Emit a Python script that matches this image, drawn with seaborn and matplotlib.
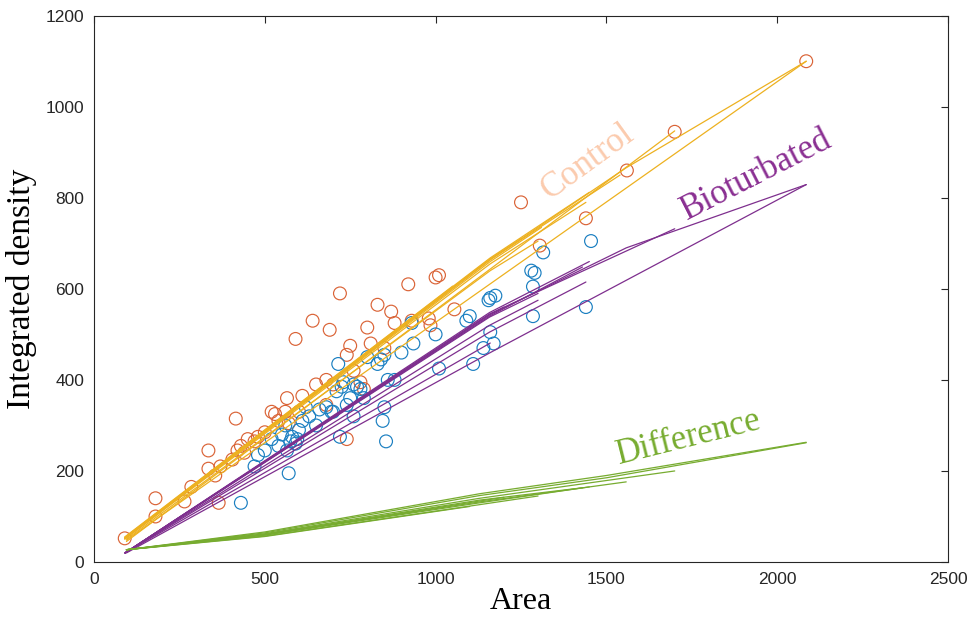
import pandas as pd
import matplotlib
matplotlib.use("Agg")
import matplotlib.pyplot as plt
import seaborn as sns

# DATA

# Control samples (orange circles)
control_area = [90, 180, 180, 265, 285, 335, 335, 355, 365, 370, 405, 415, 420, 430, 440,
                450, 470, 480, 500, 520, 530, 540, 560, 565, 570, 590, 600, 610, 640, 650,
                680, 680, 690, 700, 720, 740, 740, 750, 760, 780, 790, 800, 810, 830, 850,
                870, 880, 920, 930, 980, 985, 1000, 1010, 1055, 1250, 1305, 1440, 1560, 1700, 2085]
control_density = [52, 100, 140, 133, 165, 245, 205, 190, 130, 210, 225, 315, 245, 255, 240,
                   270, 265, 275, 285, 330, 325, 310, 330, 360, 305, 490, 330, 365, 530, 390,
                   345, 400, 510, 390, 590, 455, 270, 475, 420, 395, 380, 515, 480, 565, 470,
                   550, 525, 610, 530, 535, 520, 625, 630, 555, 790, 695, 755, 860, 945, 1100]

# Bioturbated samples (blue circles)
bio_area = [430, 470, 480, 500, 520, 540, 550, 560, 565, 570, 575, 580, 590, 595, 600,
            610, 620, 630, 650, 660, 680, 695, 700, 710, 715, 720, 725, 730, 740, 750,
            760, 760, 770, 780, 790, 800, 830, 840, 845, 850, 855, 850, 860, 880, 900,
            930, 935, 1000, 1010, 1090, 1100, 1110, 1140, 1155, 1160, 1160, 1170, 1175,
            1280, 1285, 1290, 1285, 1315, 1440, 1455]
bio_density = [130, 210, 235, 245, 270, 255, 280, 300, 245, 195, 265, 275, 260, 270, 290,
               310, 340, 320, 300, 335, 340, 330, 330, 375, 435, 275, 385, 395, 345, 360,
               320, 390, 385, 380, 360, 450, 435, 445, 310, 340, 265, 455, 400, 400, 460,
               525, 480, 500, 425, 530, 540, 435, 470, 575, 580, 505, 480, 585,
               640, 605, 635, 540, 680, 560, 705]

# Fitted curves, each one a list of (area, density) points
control_fits = [
    [(90, 52), (1160, 664), (1558, 866), (2085, 1100)],
    [(95, 48), (2085, 1100)],
    [(95, 45), (1700, 947)],
    [(90, 52), (1160, 664), (1540, 850)],
    [(90, 54), (1160, 668), (1450, 812)],
    [(90, 51), (1160, 660), (1310, 735)],
    [(90, 53), (1160, 666), (1250, 710)],
    [(90, 52), (1100, 630)],
    [(90, 55), (1050, 606)],
    [(90, 50), (1160, 655), (1440, 790)],
    [(95, 50), (1160, 640), (1300, 705)],
]
bio_fits = [
    [(91, 20), (1158, 543), (1558, 690), (2085, 829)],
    [(95, 20), (1160, 460), (2085, 829)],
    [(91, 20), (1158, 545), (1700, 732)],
    [(91, 20), (1158, 540), (1430, 648)],
    [(91, 20), (1158, 548), (1450, 660)],
    [(91, 20), (1158, 538), (1300, 590)],
    [(91, 20), (1158, 543), (1200, 560)],
    [(91, 20), (1100, 515)],
    [(91, 20), (1158, 505), (1440, 615)],
    [(91, 20), (1160, 481)],
    [(91, 20), (1158, 520), (1300, 575)],
]
diff_fits = [
    [(95, 27), (500, 66), (1129, 150), (1500, 190), (2085, 263)],
    [(95, 27), (500, 64), (1129, 146), (1500, 185), (2085, 262)],
    [(95, 27), (500, 62), (1129, 140), (1700, 200)],
    [(95, 27), (500, 60), (1129, 132), (1558, 176)],
    [(95, 27), (500, 59), (1129, 130), (1450, 165)],
    [(95, 27), (500, 57), (1129, 126), (1300, 145)],
    [(95, 27), (500, 60), (1129, 134), (1200, 142)],
    [(95, 27), (500, 56), (1100, 122)],
    [(95, 27), (500, 61), (1129, 136), (1430, 163)],
]


def fits_to_df(fits):
    rows = []
    for i, pts in enumerate(fits):
        for x, y in pts:
            rows.append({'line': i, 'Area': x, 'Density': y})
    return pd.DataFrame(rows)


sns.set_theme(style='white')
plt.rcParams['font.family'] = ['Liberation Sans', 'DejaVu Sans']
plt.rcParams['xtick.direction'] = 'in'
plt.rcParams['ytick.direction'] = 'in'

fig = plt.figure(figsize=(9.74, 6.18), dpi=100)
ax = fig.add_axes([0.0965, 0.0906, 0.8768, 0.884])

sns.scatterplot(x=control_area, y=control_density, ax=ax, marker='o', s=85,
                facecolor='none', edgecolor='#DA6336', linewidth=0.85, zorder=2)
sns.scatterplot(x=bio_area, y=bio_density, ax=ax, marker='o', s=85,
                facecolor='none', edgecolor='#1A7FC1', linewidth=0.85, zorder=2)

for fits, col in [(control_fits, '#EDB120'), (bio_fits, '#7E2F8E'), (diff_fits, '#77AC30')]:
    sns.lineplot(data=fits_to_df(fits), x='Area', y='Density', units='line', estimator=None,
                 sort=False, color=col, linewidth=0.9, ax=ax, zorder=3)

ax.text(1444, 879, 'Control', rotation=36, color='#FBCBAE', fontsize=25,
        family='Liberation Serif', ha='center', va='center', rotation_mode='anchor')
ax.text(1939, 850, 'Bioturbated', rotation=27, color='#8A2F92', fontsize=25,
        family='Liberation Serif', ha='center', va='center', rotation_mode='anchor')
ax.text(1740, 272, 'Difference', rotation=14, color='#77AC30', fontsize=25,
        family='Liberation Serif', ha='center', va='center', rotation_mode='anchor')

ax.set_xlim(0, 2500)
ax.set_ylim(0, 1200)
ax.set_xticks(range(0, 2501, 500))
ax.set_yticks(range(0, 1201, 200))
ax.tick_params(axis='both', which='both', top=True, right=True, length=5, width=0.8,
               color='#262626', labelsize=12.5, labelcolor='#262626', pad=7)
for sp in ax.spines.values():
    sp.set_color('#262626')
    sp.set_linewidth(0.8)
    sp.set_visible(True)

ax.set_xlabel('Area', family='Liberation Serif', fontsize=23, color='black', labelpad=0)
ax.set_ylabel('Integrated density', family='Liberation Serif', fontsize=24, color='black', labelpad=6)

fig.savefig('out.png', dpi=100, facecolor='white')
